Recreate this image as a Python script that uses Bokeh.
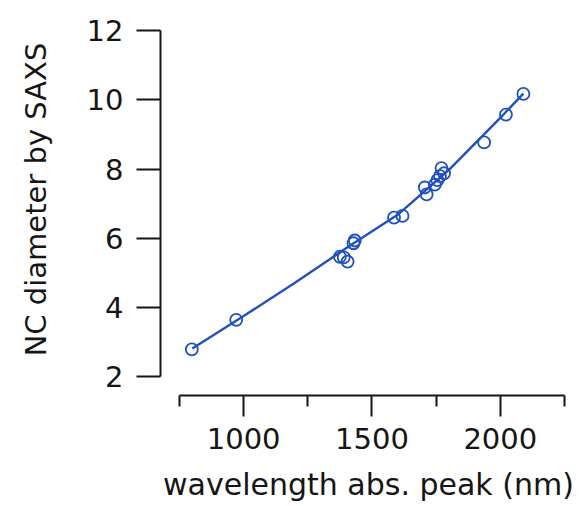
from bokeh.plotting import figure
from bokeh.models import Range1d, FixedTicker
from bokeh.embed import file_html
from bokeh.resources import INLINE

# measured data points (wavelength of absorption peak, NC diameter)
wavelength = [798, 971, 1375, 1390, 1405, 1428, 1433, 1586, 1619,
              1706, 1713, 1745, 1755, 1765, 1771, 1781, 1937, 2022, 2090]
diameter = [2.80, 3.65, 5.47, 5.45, 5.33, 5.86, 5.94, 6.60, 6.65,
            7.47, 7.27, 7.55, 7.68, 7.80, 8.03, 7.88, 8.77, 9.57, 10.17]

# fitted curve
fit_wavelength = [800, 1000, 1200, 1400, 1600, 1800, 2000, 2090]
fit_diameter = [2.82, 3.76, 4.72, 5.72, 6.68, 7.98, 9.48, 10.18]

x_ticks = [1000, 1500, 2000]
x_minor = [750, 1250, 1750, 2250]
y_ticks = [2, 4, 6, 8, 10, 12]

BLUE = "#2050c0"
INK = "#151515"
FONT = "DejaVu Sans"

p = figure(width=580, height=506, output_backend="svg", toolbar_location=None,
           x_range=Range1d(676, 2297), y_range=Range1d(1.466, 12.78),
           min_border_left=160, min_border_right=4, min_border_top=3,
           min_border_bottom=111)
p.outline_line_color = None
p.grid.visible = False
p.background_fill_color = "white"

p.line(fit_wavelength, fit_diameter, line_color=BLUE, line_width=2.4)
p.scatter(wavelength, diameter, size=12, fill_color=None, line_color=BLUE,
          line_width=1.8)

xa = p.xaxis[0]
xa.ticker = FixedTicker(ticks=x_ticks, minor_ticks=x_minor)
xa.bounds = (750, 2250)
xa.axis_label = "wavelength abs. peak (nm)"
xa.major_tick_out = 21
xa.major_tick_in = 0
xa.minor_tick_out = 11
xa.minor_tick_in = 0
xa.major_label_standoff = 11
xa.axis_label_standoff = 15

ya = p.yaxis[0]
ya.ticker = FixedTicker(ticks=y_ticks, minor_ticks=[])
ya.bounds = (2, 12)
ya.axis_label = "NC diameter by SAXS"
ya.major_tick_out = 24
ya.major_tick_in = 0
ya.minor_tick_out = 0
ya.minor_tick_in = 0
ya.major_label_standoff = 13
ya.axis_label_standoff = 31

for ax in (xa, ya):
    ax.axis_line_color = INK
    ax.axis_line_width = 2
    ax.major_tick_line_color = INK
    ax.major_tick_line_width = 2
    ax.minor_tick_line_color = INK
    ax.minor_tick_line_width = 2
    ax.major_label_text_font = FONT
    ax.major_label_text_font_size = "29px"
    ax.major_label_text_color = INK
    ax.axis_label_text_font = FONT
    ax.axis_label_text_font_style = "normal"
    ax.axis_label_text_color = INK

xa.axis_label_text_font_size = "30px"
ya.axis_label_text_font_size = "29px"

open("out.html", "w").write(file_html(p, INLINE))
